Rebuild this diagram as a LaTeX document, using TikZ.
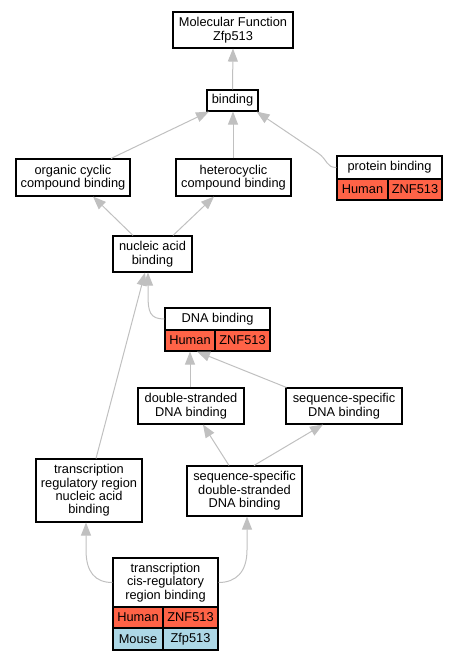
\documentclass[tikz,border=0pt]{standalone}
\usepackage{fontspec}
\setmainfont{Liberation Sans}
\usetikzlibrary{arrows.meta,calc}
\definecolor{edgegray}{HTML}{C0C0C0}
\definecolor{human}{HTML}{FF6347}
\definecolor{mouse}{HTML}{ADD8E6}
\newcommand{\lblfont}{\fontsize{12.8}{13.4}\selectfont}
\tikzset{
  gobox/.style={draw=black, line width=1.1pt, fill=white, inner sep=0pt, align=center, font=\lblfont},
  humancell/.style={gobox, fill=human},
  mousecell/.style={gobox, fill=mouse},
  isa/.style={draw=edgegray, line width=1pt, -{Triangle[width=10pt,length=13pt,fill=edgegray]}}
}
\begin{document}
\begin{tikzpicture}[x=1pt,y=-1pt]
\useasboundingbox (0,0) rectangle (457,661);
% nodes
\node[gobox, minimum width=120pt, minimum height=36pt] (mf) at (233,30) {Molecular Function\\Zfp513};
\node[gobox, minimum width=51pt, minimum height=21pt] (bind) at (232.5,100.5) {binding};
\node[gobox, minimum width=114pt, minimum height=37pt] (occ) at (73,177.5) {organic cyclic\\compound binding};
\node[gobox, minimum width=115pt, minimum height=37pt] (hcc) at (233.5,177.5) {heterocyclic\\compound binding};
\node[gobox, minimum width=105pt, minimum height=23pt] (pb) at (389.5,167.5) {protein binding};
\node[humancell, minimum width=51pt, minimum height=21pt] (pbH) at (362.5,189.5) {Human};
\node[humancell, minimum width=54pt, minimum height=21pt] (pbZ) at (415,189.5) {ZNF513};
\node[gobox, minimum width=79pt, minimum height=36pt] (nab) at (152.5,254) {nucleic acid\\binding};
\node[gobox, minimum width=105pt, minimum height=22pt] (dna) at (217.5,319) {DNA binding};
\node[humancell, minimum width=50pt, minimum height=21pt] (dnaH) at (190,340.5) {Human};
\node[humancell, minimum width=55pt, minimum height=21pt] (dnaZ) at (242.5,340.5) {ZNF513};
\node[gobox, minimum width=106pt, minimum height=36pt] (dsd) at (191,406) {double-stranded\\DNA binding};
\node[gobox, minimum width=116pt, minimum height=36pt] (ssd) at (344,406) {sequence-specific\\DNA binding};
\node[gobox, minimum width=106pt, minimum height=63pt] (trr) at (89,490.5) {transcription\\regulatory region\\nucleic acid\\binding};
\node[gobox, minimum width=115pt, minimum height=50pt] (ssds) at (244.5,491) {sequence-specific\\double-stranded\\DNA binding};
\node[gobox, minimum width=105pt, minimum height=49pt] (cis) at (165.5,582.5) {transcription\\cis-regulatory\\region binding};
\node[humancell, minimum width=50pt, minimum height=21pt] (cisH) at (138,617.5) {Human};
\node[humancell, minimum width=55pt, minimum height=21pt] (cisHZ) at (190.5,617.5) {ZNF513};
\node[mousecell, minimum width=50pt, minimum height=22pt] (cisM) at (138,639) {Mouse};
\node[mousecell, minimum width=55pt, minimum height=22pt] (cisMZ) at (190.5,639) {Zfp513};
% edges
\draw[isa] (bind.north) -- (mf.south);
\draw[isa] ($(occ.north)+(38,0)$) -- ($(bind.south)+(-23.5,0)$);
\draw[isa] ($(hcc.north)+(-0.5,0)$) -- ($(bind.south)+(0.5,0)$);
\draw[isa] (pb.west) .. controls (326,167.5) and (328,160) .. (318,153) -- ($(bind.south east)+(-2,0)$);
\draw[isa] ($(nab.north)+(-19.5,0)$) -- ($(occ.south)+(20,0)$);
\draw[isa] ($(nab.north)+(20.5,0)$) -- ($(hcc.south)+(-19.5,0)$);
\draw[isa] (dna.west) .. controls (150,319) and (148,312) .. (148,295) -- ($(nab.south)+(-4.5,0)$);
\draw[isa] ($(trr.north)+(7,0)$) -- ($(nab.south)+(-7.5,0)$);
\draw[isa] ($(dsd.north)+(-1,0)$) -- (dnaH.south);
\draw[isa] ($(ssd.north west)+(1,0)$) -- ($(dnaH.south)+(7,0)$);
\draw[isa] ($(ssds.north)+(-15.5,0)$) -- ($(dsd.south)+(12,0)$);
\draw[isa] ($(ssds.north)+(9.5,0)$) -- ($(ssd.south)+(-21,0)$);
\draw[isa] (cis.west) .. controls (95,582.5) and (86,572) .. (86,550) -- ($(trr.south)+(-3,0)$);
\draw[isa] (cis.east) .. controls (236,582.5) and (247,572) .. (247,550) -- ($(ssds.south)+(2.5,0)$);
\end{tikzpicture}
\end{document}
